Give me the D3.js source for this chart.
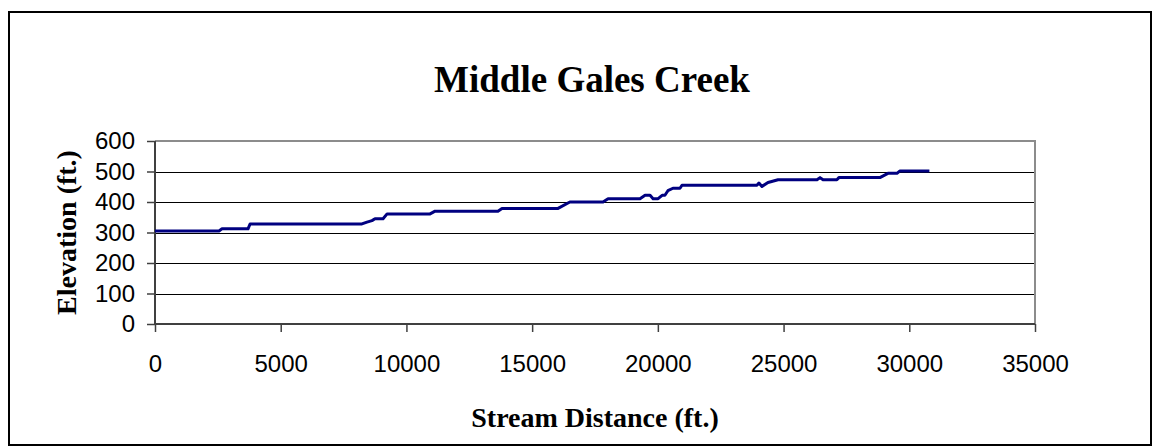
<!DOCTYPE html>
<html>
<head>
<meta charset="utf-8">
<script src="https://cdn.jsdelivr.net/npm/d3@7"></script>
<style>
    body { margin: 0; background: #fff; }
    svg { display: block; }
</style>
</head>
<body>
<div id="chart"></div>
<script>
// stream profile
var distance = [0, 2545, 2665, 3700, 3780, 8230, 8430, 8630, 8750, 9070,
                9230, 10940, 11140, 13640, 13800, 16030, 16500, 17820, 18020, 19290,
                19490, 19690, 19810, 20010, 20170, 20280, 20400, 20600, 20880, 20960,
                23940, 24020, 24140, 24380, 24780, 26330, 26450, 26570, 27120, 27200,
                28830, 29150, 29510, 29630, 30800];
var elevation = [305, 305, 312, 312, 328, 328, 334, 339, 345, 345,
                 361, 361, 370, 370, 379, 379, 400, 400, 411, 411,
                 422, 422, 411, 411, 422, 422, 437, 445, 445, 455,
                 455, 462, 451, 464, 473, 473, 480, 473, 473, 480,
                 480, 494, 494, 502, 502];

var xTicks = [0, 5000, 10000, 15000, 20000, 25000, 30000, 35000];
var yTicks = [0, 100, 200, 300, 400, 500, 600];

var chartTitle = "Middle Gales Creek";
var xTitle = "Stream Distance (ft.)";
var yTitle = "Elevation (ft.)";

var width = 1159, height = 448;
var plot = { left: 155, right: 1035, top: 141, bottom: 324 };

var svg = d3.select('#chart')
            .append('svg')
                .attr('width', width)
                .attr('height', height);

// outer frame
svg.append('rect')
    .attr('x', 9)
    .attr('y', 12)
    .attr('width', 1142)
    .attr('height', 433)
    .attr('fill', 'none')
    .attr('stroke', '#000')
    .attr('stroke-width', 2);

let xScale = d3.scaleLinear()
                .domain([0, 35000])
                .range([plot.left, plot.right]);

let yScale = d3.scaleLinear()
                .domain([0, 600])
                .range([plot.bottom, plot.top]);

// gridlines
svg.append('g').selectAll('line')
    .data(yTicks.filter(function(d) { return d > 0 && d < 600; }))
    .enter()
    .append('line')
        .attr('x1', plot.left)
        .attr('x2', plot.right)
        .attr('y1', function(d) { return Math.round(yScale(d)) + 0.5; })
        .attr('y2', function(d) { return Math.round(yScale(d)) + 0.5; })
        .attr('stroke', '#000')
        .attr('stroke-width', 1);

// plot area border, top and right
svg.append('path')
    .attr('d', `M${plot.left},${yScale(600)}H${plot.right}V${plot.bottom}`)
    .attr('fill', 'none')
    .attr('stroke', '#8c8c8c')
    .attr('stroke-width', 2);

let xAxis = d3.axisBottom(xScale)
                .tickValues(xTicks)
                .tickSize(8)
                .tickPadding(23)
                .tickFormat(d3.format('d'));

let yAxis = d3.axisLeft(yScale)
                .tickValues(yTicks)
                .tickSize(8)
                .tickPadding(12)
                .tickFormat(d3.format('d'));

let gx = svg.append('g')
            .attr('transform', `translate(0, ${plot.bottom})`)
            .call(xAxis);

let gy = svg.append('g')
            .attr('transform', `translate(${plot.left}, 0)`)
            .call(yAxis);

[gx, gy].forEach(function(g) {
    g.select('.domain')
        .attr('stroke', '#404040')
        .attr('stroke-width', 2);
    g.selectAll('.tick line')
        .attr('stroke', '#404040')
        .attr('stroke-width', 1.5);
    g.selectAll('.tick text')
        .attr('fill', '#000')
        .style('font-family', '"Liberation Sans", Arial, sans-serif')
        .style('font-size', '24px');
});
gy.select('.domain').attr('d', `M0,${plot.bottom}V${plot.top}`);
gx.select('.domain').attr('d', `M${plot.left},0H${plot.right}`);

// profile line
let line = d3.line()
            .x(function(d, i) { return xScale(distance[i]); })
            .y(function(d) { return yScale(d); });

svg.append('path')
    .datum(elevation)
    .attr('d', line)
    .attr('fill', 'none')
    .attr('stroke', '#000080')
    .attr('stroke-width', 3)
    .attr('stroke-linejoin', 'round');

// titles
svg.append('text')
    .attr('x', 592)
    .attr('y', 92)
    .attr('text-anchor', 'middle')
    .style('font-family', '"Liberation Serif", "Times New Roman", serif')
    .style('font-weight', 'bold')
    .style('font-size', '37px')
    .text(chartTitle);

svg.append('text')
    .attr('x', (plot.left + plot.right) / 2)
    .attr('y', 427)
    .attr('text-anchor', 'middle')
    .style('font-family', '"Liberation Serif", "Times New Roman", serif')
    .style('font-weight', 'bold')
    .style('font-size', '28px')
    .text(xTitle);

svg.append('text')
    .attr('transform', `translate(76, ${(plot.top + plot.bottom) / 2}) rotate(-90)`)
    .attr('text-anchor', 'middle')
    .style('font-family', '"Liberation Serif", "Times New Roman", serif')
    .style('font-weight', 'bold')
    .style('font-size', '28px')
    .text(yTitle);
</script>
</body>
</html>
